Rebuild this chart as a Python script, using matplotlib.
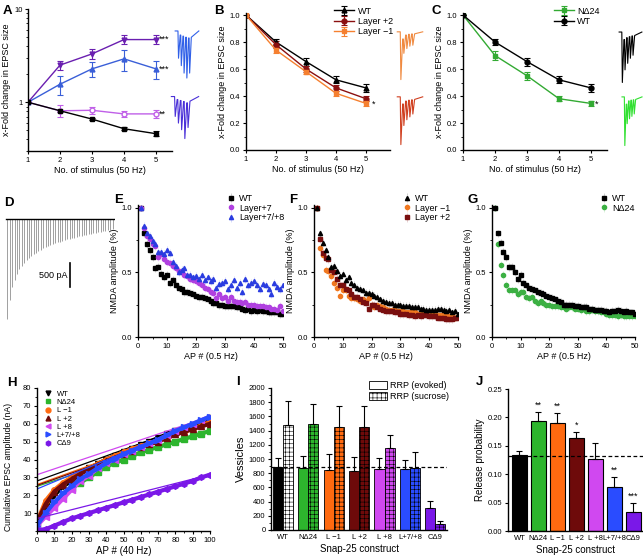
import numpy as np
import matplotlib
matplotlib.use('Agg')
import matplotlib.pyplot as plt
from matplotlib.ticker import MultipleLocator, NullFormatter
from matplotlib.patches import Patch
from matplotlib.lines import Line2D

plt.rcParams['font.family'] = ['Liberation Sans', 'DejaVu Sans']
plt.rcParams['hatch.linewidth'] = 0.4

# ---------------- data ----------------
stim = [1, 2, 3, 4, 5]
a_purple = [1.0, 2.5, 3.3, 4.7, 4.7]
a_purple_err = [0.0, 0.3, 0.4, 0.5, 0.5]
a_blue = [1.0, 1.56, 2.28, 2.92, 2.28]
a_blue_err = [0.0, 0.35, 0.4, 0.75, 0.5]
a_violet = [1.0, 0.81, 0.82, 0.75, 0.75]
a_violet_err = [0.0, 0.12, 0.08, 0.06, 0.07]
a_black = [1.0, 0.81, 0.66, 0.52, 0.46]
a_black_err = [0.0, 0.02, 0.02, 0.02, 0.03]

b_wt = [1.0, 0.80, 0.655, 0.52, 0.46]
b_wt_err = [0.0, 0.025, 0.03, 0.025, 0.03]
b_l2 = [1.0, 0.78, 0.60, 0.46, 0.38]
b_l2_err = [0.0, 0.025, 0.025, 0.02, 0.02]
b_lm1 = [1.0, 0.74, 0.58, 0.42, 0.345]
b_lm1_err = [0.0, 0.025, 0.02, 0.02, 0.02]

c_nd24 = [1.0, 0.70, 0.55, 0.38, 0.345]
c_nd24_err = [0.0, 0.03, 0.03, 0.02, 0.02]
c_wt = [1.0, 0.80, 0.655, 0.52, 0.46]
c_wt_err = [0.0, 0.025, 0.03, 0.025, 0.03]

# example traces (relative peak amplitudes)
trace_a_top = [0.55, 0.7, 0.85, 0.95, 0.85]
trace_a_bottom = [0.45, 0.6, 0.75, 0.95, 0.7]
trace_b_top = [1.0, 0.45, 0.35, 0.3, 0.28]
trace_b_bottom = [1.0, 0.6, 0.48, 0.42, 0.36]
trace_c_top = [1.0, 0.75, 0.62, 0.52, 0.46]
trace_c_bottom = [1.0, 0.55, 0.45, 0.4, 0.35]

# D: NMDA train peak amplitudes (pA)
d_amps = [2040, 1650, 1400, 1250, 1130, 1030, 960, 900, 850, 800, 760, 720,
          690, 660, 630, 600, 580, 560, 540, 520, 500, 480, 465, 450, 435,
          420, 405, 390, 380, 370, 355, 345, 335, 325, 315, 305, 295, 285,
          275, 265, 255, 245, 235, 225, 215]

ap = list(range(1, 51))
e_wt = [1.0, 0.80, 0.72, 0.67, 0.62, 0.53, 0.54, 0.49, 0.46, 0.48, 0.42, 0.44,
        0.40, 0.38, 0.37, 0.35, 0.35, 0.34, 0.33, 0.32, 0.31, 0.31, 0.30, 0.29,
        0.28, 0.26, 0.26, 0.25, 0.25, 0.24, 0.24, 0.24, 0.24, 0.23, 0.23, 0.22,
        0.21, 0.22, 0.20, 0.21, 0.20, 0.21, 0.20, 0.20, 0.19, 0.19, 0.19, 0.19,
        0.18, 0.18]
e_l7 = [1.0, 0.84, 0.78, 0.76, 0.72, 0.70, 0.62, 0.64, 0.60, 0.58, 0.57, 0.55,
        0.53, 0.51, 0.50, 0.48, 0.47, 0.45, 0.44, 0.43, 0.42, 0.40, 0.38, 0.37,
        0.35, 0.34, 0.30, 0.33, 0.30, 0.31, 0.28, 0.31, 0.28, 0.27, 0.27, 0.26,
        0.27, 0.25, 0.25, 0.25, 0.24, 0.24, 0.24, 0.23, 0.23, 0.22, 0.22, 0.21,
        0.24, 0.20]
e_l78 = [1.0, 0.86, 0.80, 0.78, 0.74, 0.72, 0.66, 0.66, 0.64, 0.67, 0.65, 0.58,
         0.55, 0.50, 0.52, 0.53, 0.48, 0.48, 0.46, 0.47, 0.45, 0.48, 0.44, 0.46,
         0.43, 0.45, 0.38, 0.41, 0.42, 0.43, 0.37, 0.40, 0.44, 0.38, 0.42, 0.35,
         0.45, 0.40, 0.42, 0.43, 0.40, 0.37, 0.41, 0.40, 0.37, 0.33, 0.42, 0.39,
         0.37, 0.40]
f_wt = [1.0, 0.80, 0.73, 0.67, 0.62, 0.54, 0.55, 0.51, 0.47, 0.49, 0.44, 0.46,
        0.42, 0.40, 0.38, 0.37, 0.36, 0.34, 0.34, 0.33, 0.32, 0.31, 0.29, 0.28,
        0.27, 0.26, 0.26, 0.25, 0.25, 0.25, 0.24, 0.24, 0.24, 0.23, 0.23, 0.23,
        0.22, 0.22, 0.21, 0.21, 0.21, 0.21, 0.22, 0.22, 0.21, 0.20, 0.21, 0.19,
        0.20, 0.18]
f_lm1 = [1.0, 0.69, 0.63, 0.52, 0.51, 0.47, 0.42, 0.38, 0.32, 0.36, 0.36, 0.32,
         0.30, 0.30, 0.29, 0.28, 0.29, 0.28, 0.30, 0.25, 0.23, 0.25, 0.24, 0.23,
         0.22, 0.21, 0.21, 0.21, 0.20, 0.20, 0.20, 0.19, 0.19, 0.19, 0.19, 0.18,
         0.18, 0.18, 0.18, 0.18, 0.17, 0.17, 0.17, 0.17, 0.18, 0.16, 0.16, 0.16,
         0.15, 0.16]
f_l2 = [1.0, 0.76, 0.65, 0.61, 0.60, 0.52, 0.50, 0.45, 0.40, 0.40, 0.37, 0.36,
        0.33, 0.31, 0.31, 0.29, 0.27, 0.26, 0.22, 0.25, 0.25, 0.23, 0.22, 0.21,
        0.20, 0.20, 0.20, 0.19, 0.19, 0.18, 0.18, 0.18, 0.17, 0.17, 0.16, 0.17,
        0.16, 0.17, 0.17, 0.16, 0.16, 0.16, 0.15, 0.15, 0.15, 0.14, 0.14, 0.14,
        0.15, 0.15]
g_wt = [1.0, 0.80, 0.73, 0.66, 0.62, 0.54, 0.54, 0.50, 0.45, 0.48, 0.42, 0.40,
        0.38, 0.37, 0.36, 0.35, 0.34, 0.33, 0.32, 0.31, 0.30, 0.29, 0.28, 0.27,
        0.25, 0.25, 0.25, 0.25, 0.24, 0.24, 0.23, 0.23, 0.23, 0.22, 0.22, 0.21,
        0.21, 0.21, 0.20, 0.20, 0.19, 0.20, 0.20, 0.21, 0.20, 0.19, 0.20, 0.19,
        0.19, 0.18]
g_nd24 = [1.0, 0.72, 0.56, 0.48, 0.40, 0.36, 0.36, 0.36, 0.33, 0.35, 0.35, 0.31,
          0.30, 0.31, 0.28, 0.26, 0.28, 0.26, 0.25, 0.25, 0.24, 0.24, 0.24, 0.23,
          0.23, 0.22, 0.23, 0.23, 0.22, 0.22, 0.21, 0.22, 0.20, 0.20, 0.21, 0.20,
          0.20, 0.19, 0.19, 0.18, 0.17, 0.17, 0.17, 0.16, 0.17, 0.16, 0.16, 0.16,
          0.16, 0.16]
nmda_err = 0.03

# H: cumulative EPSC (nA), every 5 APs
h_ap = [0, 5, 10, 15, 20, 25, 30, 35, 40, 45, 50, 55, 60, 65, 70, 75, 80, 85, 90, 95, 100]
h_wt = [4, 14, 20, 25, 28, 32, 35, 37.5, 40, 42, 44, 46, 48, 50, 52, 54, 56, 57.5, 59, 61, 63]
h_nd24 = [3, 10, 15, 20, 24, 27, 30, 33, 36, 38, 40, 42, 44, 45.5, 47, 48.5, 50, 51.5, 53, 54.5, 56]
h_lm1 = [5, 17, 23, 27, 30, 33, 35, 37.5, 40, 42, 44, 46, 47.5, 49, 50.5, 52, 54, 55.5, 57, 59, 61]
h_l2 = [5, 15, 22, 26, 29, 32, 34.5, 37, 39, 41, 43, 45, 47, 48.5, 50, 52, 54, 55.5, 57, 58.5, 60]
h_l8 = [3, 8, 13, 18, 23, 28, 31, 35, 38, 40, 43, 45, 47, 49, 51, 53.5, 56, 58, 60, 62, 64]
h_l78 = [3, 10, 16, 21, 25, 29, 32, 35, 38, 40.5, 43, 45, 47, 49, 51, 53.5, 56, 58, 60, 62, 64]
h_cd9 = [0.5, 1, 3, 5, 7, 8.5, 10, 11.5, 13, 14.5, 16, 17.5, 19, 20.5, 22, 23.5, 25, 26.5, 28, 30, 31.5]
# linear fits: value at AP 0 and AP 100
h_fit_start = [28, 25, 26, 25.5, 31.5, 23.5, 7]
h_fit_end = [63, 56, 61, 60, 64, 64, 31.5]

constructs = ['WT', 'N\u039424', 'L \u22121', 'L +2', 'L +8', 'L+7/+8', 'C\u03949']
colors = ['#000000', '#2db52d', '#ff6a10', '#6e0a0a', '#d048f0', '#2a4cff', '#7a18e8']
rrp_evoked = [890, 875, 850, 830, 865, 865, 310]
rrp_evoked_err = [120, 170, 215, 200, 155, 125, 100]
rrp_sucrose = [1480, 1490, 1450, 1445, 1150, 875, 90]
rrp_sucrose_err = [330, 290, 300, 295, 195, 225, 40]
rrp_ref = 890

pr = [0.133, 0.193, 0.190, 0.163, 0.126, 0.078, 0.033]
pr_err = [0.008, 0.016, 0.017, 0.012, 0.029, 0.017, 0.016]
pr_stars = ['', '**', '**', '*', '', '**', '***']
pr_ref = 0.132

W, H = 643, 558
fig = plt.figure(figsize=(W / 100, H / 100), dpi=100)

TICK = 5.5
LAB = 6.5


def add_ax(l, t, r, b):
    return fig.add_axes([l / W, 1 - b / H, (r - l) / W, (b - t) / H])


def style(ax):
    for s in ['top', 'right']:
        ax.spines[s].set_visible(False)
    for s in ['left', 'bottom']:
        ax.spines[s].set_linewidth(1.0)
    ax.tick_params(labelsize=TICK, length=2.5, width=0.8, pad=1.5)
    ax.tick_params(which='minor', length=1.5, width=0.6)


def draw_trace(ax, peaks, color, lw=0.8):
    xs = [-1.0]
    ys = [0.0]
    for i, p in enumerate(peaks):
        xs += [i, i + 0.2, i + 0.8]
        ys += [ys[-1], -p, -0.15 * p]
    xs += [len(peaks) + 2.5]
    ys += [0.0]
    ax.plot(xs, ys, color=color, lw=lw)
    ax.set_ylim(-1.05, 0.08)
    ax.set_axis_off()


def letter(x, y, s):
    fig.text(x / W, 1 - y / H, s, fontsize=9.5, fontweight='bold', va='baseline')


eb = dict(capsize=2, elinewidth=0.8, capthick=0.8, lw=1.0, ms=3.5)

# ---------------- A ----------------
ax = add_ax(28, 9, 172, 151)
ax.errorbar(stim, a_purple, yerr=a_purple_err, color='#6a1fb0', marker='v', **eb)
ax.errorbar(stim, a_blue, yerr=a_blue_err, color='#3a5fd8', marker='^', **eb)
ax.errorbar(stim, a_violet, yerr=a_violet_err, color='#c060e8', marker='o', mfc='white', **eb)
ax.errorbar(stim, a_black, yerr=a_black_err, color='black', marker='s', **eb)
ax.set_yscale('log')
ax.set_ylim(0.3, 10)
ax.set_xlim(1, 5.5)
ax.set_yticks([1, 10])
ax.set_yticklabels(['1', '10'])
ax.yaxis.set_minor_formatter(NullFormatter())
ax.set_xticks(stim)
style(ax)
ax.set_xlabel('No. of stimulus (50 Hz)', fontsize=LAB, labelpad=2)
ax.set_ylabel('x-Fold change in EPSC size', fontsize=LAB, labelpad=2)
for y, s in [(a_purple[-1], '***'), (a_blue[-1], '***'), (a_violet[-1], '**')]:
    ax.text(5.08, y, s, fontsize=6.5, va='center')
draw_trace(add_ax(174, 27, 200, 83), trace_a_top, '#3060e8')
draw_trace(add_ax(170, 93, 200, 143), trace_a_bottom, '#4a30d8')
letter(3, 14, 'A')

# ---------------- B ----------------
ax = add_ax(246, 13, 390, 150)
ax.errorbar(stim, b_wt, yerr=b_wt_err, color='black', marker='^', label='WT', **eb)
ax.errorbar(stim, b_l2, yerr=b_l2_err, color='#8b1010', marker='o', label='Layer +2', **eb)
ax.errorbar(stim, b_lm1, yerr=b_lm1_err, color='#f58030', marker='s', label='Layer \u22121', **eb)
ax.set_xlim(1, 5.8)
ax.set_ylim(0, 1.015)
ax.set_xticks(stim)
ax.yaxis.set_major_locator(MultipleLocator(0.2))
ax.yaxis.set_minor_locator(MultipleLocator(0.1))
ax.yaxis.set_major_formatter(lambda v, p: f'{v:.1f}')
style(ax)
ax.set_xlabel('No. of stimulus (50 Hz)', fontsize=LAB, labelpad=2)
ax.set_ylabel('x-Fold change in EPSC size', fontsize=LAB, labelpad=2)
ax.text(5.18, 0.34, '*', fontsize=6.5, va='center')
ax.legend(loc='upper left', bbox_to_anchor=(0.58, 1.08), fontsize=LAB, frameon=False,
          handlelength=2.2, handletextpad=0.4, labelspacing=0.15, borderpad=0)
draw_trace(add_ax(396, 28, 424, 82), trace_b_top, '#f08a40')
draw_trace(add_ax(396, 93, 424, 147), trace_b_bottom, '#d04020')
letter(214, 14, 'B')

# ---------------- C ----------------
ax = add_ax(463, 13, 607, 150)
ax.errorbar(stim, c_nd24, yerr=c_nd24_err, color='#33aa33', marker='s', label='N\u039424', **eb)
ax.errorbar(stim, c_wt, yerr=c_wt_err, color='black', marker='o', label='WT', **eb)
ax.set_xlim(1, 5.5)
ax.set_ylim(0, 1.015)
ax.set_xticks(stim)
ax.yaxis.set_major_locator(MultipleLocator(0.2))
ax.yaxis.set_minor_locator(MultipleLocator(0.1))
ax.yaxis.set_major_formatter(lambda v, p: f'{v:.1f}')
style(ax)
ax.set_xlabel('No. of stimulus (50 Hz)', fontsize=LAB, labelpad=2)
ax.set_ylabel('x-Fold change in EPSC size', fontsize=LAB, labelpad=2)
ax.text(5.12, 0.34, '*', fontsize=6.5, va='center')
ax.legend(loc='upper left', bbox_to_anchor=(0.6, 1.08), fontsize=LAB, frameon=False,
          handlelength=2.2, handletextpad=0.4, labelspacing=0.15, borderpad=0)
draw_trace(add_ax(618, 28, 643, 85), trace_c_top, 'black')
draw_trace(add_ax(621, 93, 643, 148), trace_c_bottom, '#30e030')
letter(432, 14, 'C')

# ---------------- D ----------------
ax = add_ax(5, 216, 115, 324)
ax.vlines(np.arange(len(d_amps)), [-a for a in d_amps], 0, color='#a0a0a0', lw=0.7)
ax.plot([-0.5, len(d_amps) - 0.5], [0, 0], color='black', lw=1.0)
ax.plot([26, 26], [-1400, -900], color='black', lw=1.2)
ax.text(25, -1150, '500 pA', fontsize=6.5, ha='right', va='center')
ax.set_xlim(-1, len(d_amps))
ax.set_ylim(-2150, 60)
ax.set_axis_off()
letter(4, 206, 'D')


def nmda_panel(ax, series):
    for y, c, m, lab in series:
        ax.errorbar(ap, y, yerr=nmda_err, color=c, marker=m, ls='none', ms=3.0,
                    elinewidth=0.5, ecolor=c, label=lab)
    for ln in ax.collections:
        ln.set_alpha(0.25)
    ax.set_xlim(0, 50)
    ax.set_ylim(0, 1.02)
    ax.xaxis.set_major_locator(MultipleLocator(10))
    ax.xaxis.set_minor_locator(MultipleLocator(5))
    ax.yaxis.set_major_locator(MultipleLocator(0.5))
    ax.yaxis.set_minor_locator(MultipleLocator(0.25))
    ax.yaxis.set_major_formatter(lambda v, p: f'{v:.1f}')
    style(ax)
    ax.set_xlabel('AP # (0.5 Hz)', fontsize=LAB, labelpad=2)
    ax.set_ylabel('NMDA amplitude (%)', fontsize=LAB, labelpad=2)


def nmda_legend(ax, order, x0):
    h, l = ax.get_legend_handles_labels()
    ax.legend([h[i] for i in order], [l[i] for i in order], loc='upper left',
              bbox_to_anchor=(x0, 1.12), fontsize=LAB, frameon=False, handlelength=1.0,
              handletextpad=0.4, labelspacing=0.1, borderpad=0)


# ---------------- E ----------------
ax = add_ax(138, 205, 283, 337)
nmda_panel(ax, [(e_wt, 'black', 's', 'WT'),
                (e_l7, '#b040e0', 'o', 'Layer+7'),
                (e_l78, '#2a3ce0', '^', 'Layer+7/+8')])
nmda_legend(ax, [0, 1, 2], 0.58)
letter(114, 203, 'E')

# ---------------- F ----------------
ax = add_ax(314, 205, 458, 337)
nmda_panel(ax, [(f_lm1, '#f07820', 'o', 'Layer \u22121'),
                (f_l2, '#7a0f0f', 's', 'Layer +2'),
                (f_wt, 'black', '^', 'WT')])
nmda_legend(ax, [2, 0, 1], 0.58)
letter(289, 203, 'F')

# ---------------- G ----------------
ax = add_ax(492, 205, 635, 337)
nmda_panel(ax, [(g_nd24, '#3cb043', 'o', 'N\u039424'),
                (g_wt, 'black', 's', 'WT')])
nmda_legend(ax, [1, 0], 0.72)
letter(467, 203, 'G')

# ---------------- H ----------------
ax = add_ax(37, 388, 210, 531)
h_series = [h_wt, h_nd24, h_lm1, h_l2, h_l8, h_l78, h_cd9]
h_markers = ['v', 's', 'o', '^', '<', '>', 'h']
handles = []
for ys, c, m, lab, f0, f1 in zip(h_series, colors, h_markers, constructs, h_fit_start, h_fit_end):
    ax.plot(h_ap, ys, color=c, lw=3.0, marker=m, ms=4)
    ax.plot([0, 100], [f0, f1], color=c, lw=0.9)
    handles.append(Line2D([], [], color=c, marker=m, ls='none', ms=3.5, label=lab))
ax.set_xlim(0, 100)
ax.set_ylim(0, 80)
ax.xaxis.set_major_locator(MultipleLocator(10))
ax.xaxis.set_minor_locator(MultipleLocator(5))
ax.set_yticks([10, 20, 30, 40, 50, 60, 70, 80])
ax.yaxis.set_minor_locator(MultipleLocator(5))
style(ax)
ax.set_xlabel('AP # (40 Hz)', fontsize=7, labelpad=2)
ax.set_ylabel('Cumulative EPSC amplitude (nA)', fontsize=6.2, labelpad=2)
ax.yaxis.set_label_coords(-0.14, 0.45)
ax.legend(handles=handles, loc='upper left', bbox_to_anchor=(0.02, 1.01), fontsize=TICK,
          frameon=False, handlelength=1.0, handletextpad=0.6, labelspacing=0.12, borderpad=0)
letter(7, 386, 'H')

# ---------------- I ----------------
ax = add_ax(271, 388, 447, 530)
x = np.arange(len(constructs))
bw = 0.4
ax.bar(x - bw / 2, rrp_evoked, bw, color=colors, edgecolor='black', lw=0.6,
       yerr=[[0] * len(x), rrp_evoked_err], error_kw=dict(elinewidth=0.8, capsize=2, capthick=0.8))
suc_face = ['white'] + colors[1:]
ax.bar(x + bw / 2, rrp_sucrose, bw, color=suc_face, edgecolor='black', lw=0.6, hatch='++++',
       yerr=[[0] * len(x), rrp_sucrose_err], error_kw=dict(elinewidth=0.8, capsize=2, capthick=0.8))
ax.axhline(rrp_ref, color='black', ls=(0, (3, 2)), lw=0.9)
ax.set_xlim(-0.47, 6.46)
ax.set_ylim(0, 2000)
ax.set_xticks(x)
ax.set_xticklabels(constructs)
ax.yaxis.set_major_locator(MultipleLocator(200))
ax.yaxis.set_minor_locator(MultipleLocator(100))
style(ax)
ax.tick_params(axis='x', length=0, pad=3)
ax.set_xlabel('Snap-25 construct', fontsize=7, labelpad=2)
ax.set_ylabel('Vessicles', fontsize=8, labelpad=2)
ax.legend(handles=[Patch(facecolor='white', edgecolor='black', lw=0.6, label='RRP (evoked)'),
                   Patch(facecolor='white', edgecolor='black', lw=0.6, hatch='++++',
                         label='RRP (sucrose)')],
          loc='upper left', bbox_to_anchor=(0.53, 1.08), fontsize=6.5, frameon=False,
          handlelength=2.0, handleheight=0.9, handletextpad=0.3, labelspacing=0.2, borderpad=0)
letter(236, 385, 'I')

# ---------------- J ----------------
ax = add_ax(508, 389, 643, 531)
ax.bar(x, pr, 0.82, color=colors, edgecolor='black', lw=0.8,
       yerr=[[0] * len(x), pr_err], error_kw=dict(elinewidth=0.8, capsize=2, capthick=0.8))
for xi, v, e, s in zip(x, pr, pr_err, pr_stars):
    if s:
        ax.text(xi, v + e + 0.012, s, ha='center', va='center', fontsize=6.5)
ax.axhline(pr_ref, color='black', ls=(0, (3, 2)), lw=0.9)
ax.set_xlim(-0.6, 6.5)
ax.set_ylim(0, 0.25)
ax.set_xticks(x)
ax.set_xticklabels(constructs, fontsize=4.7)
ax.yaxis.set_major_locator(MultipleLocator(0.05))
ax.yaxis.set_major_formatter(lambda v, p: f'{v:.2f}')
style(ax)
ax.tick_params(axis='x', length=0, pad=3)
ax.set_xlabel('Snap-25 construct', fontsize=7, labelpad=2)
ax.set_ylabel('Release probability', fontsize=7, labelpad=2)
letter(476, 385, 'J')

fig.savefig('out.png', dpi=100)
